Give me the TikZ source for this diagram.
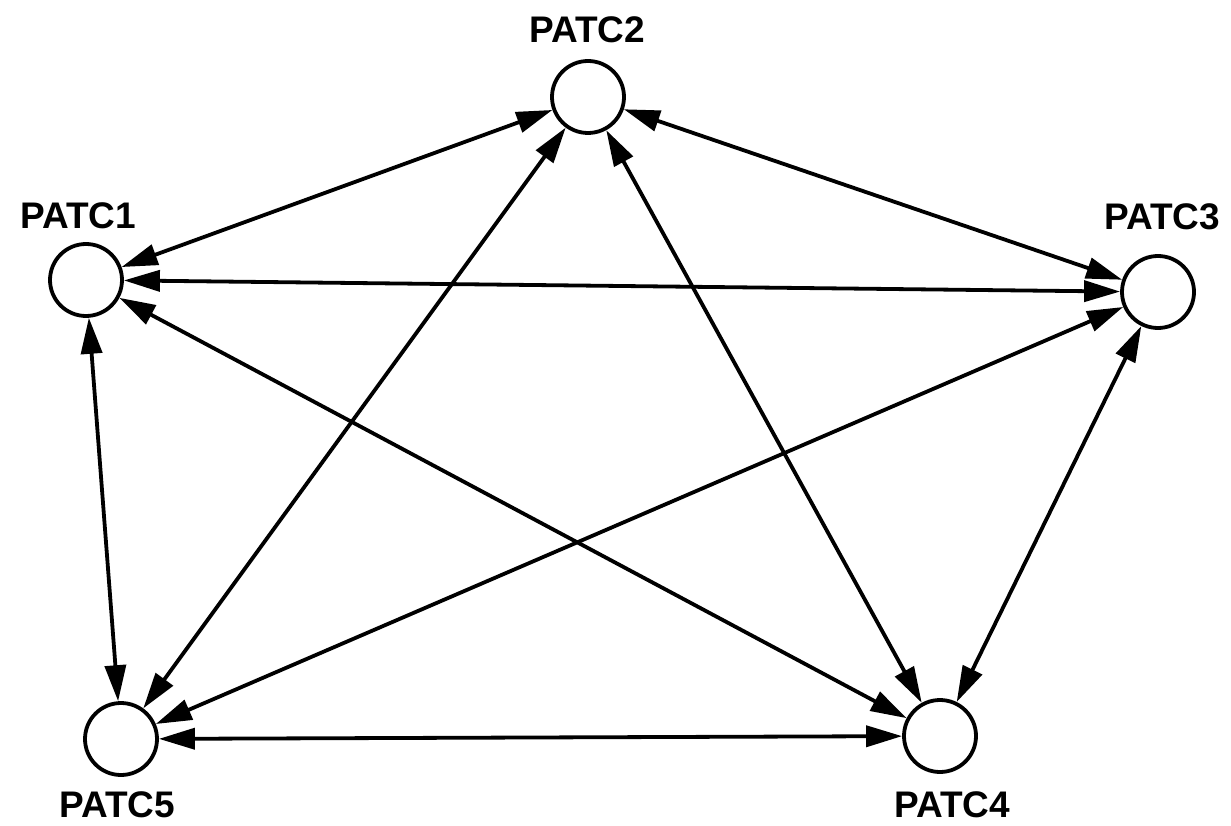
\documentclass[tikz,border=0pt]{standalone}
\usepackage{fontspec}
\setmainfont{Liberation Sans}
\usetikzlibrary{arrows.meta}
\tikzset{
  station/.style={circle,draw=black,line width=3.8pt,minimum size=72pt,inner sep=0pt,fill=white},
  tag/.style={font=\fontsize{37}{40}\selectfont\bfseries,inner sep=0pt,anchor=center},
  link/.style={line width=3.8pt,{Triangle[length=36pt,width=21pt]}-{Triangle[length=36pt,width=21pt]}}
}
\begin{document}
\begin{tikzpicture}[x=1pt,y=-1pt]
\useasboundingbox[fill=white] (0,0) rectangle (1231,826);
\node[station] (p1) at (86,280) {};
\node[station] (p2) at (588,97) {};
\node[station] (p3) at (1158,292) {};
\node[station] (p4) at (940,736) {};
\node[station] (p5) at (121,739) {};
\node[tag] (t1) at (78,216) {PATC1};
\node[tag] (t2) at (587,30) {PATC2};
\node[tag] (t3) at (1162,217) {PATC3};
\node[tag] (t4) at (952,805) {PATC4};
\node[tag] (t5) at (117,805) {PATC5};
\draw[link] (p1) -- (p2);
\draw[link] (p1) -- (p3);
\draw[link] (p1) -- (p4);
\draw[link] (p1) -- (p5);
\draw[link] (p2) -- (p3);
\draw[link] (p2) -- (p4);
\draw[link] (p2) -- (p5);
\draw[link] (p3) -- (p4);
\draw[link] (p3) -- (p5);
\draw[link] (p4) -- (p5);
\end{tikzpicture}
\end{document}
